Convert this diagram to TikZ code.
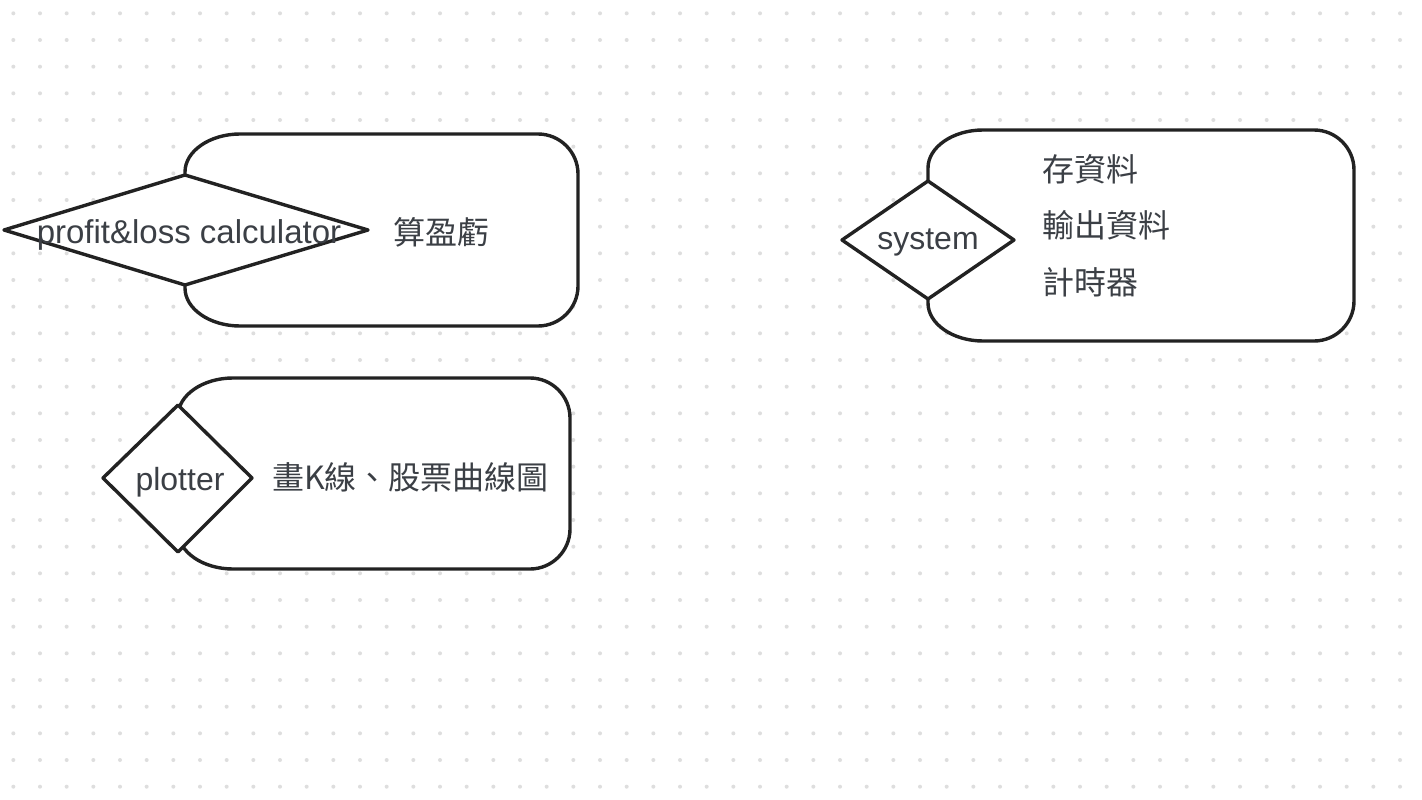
\documentclass[tikz,border=0pt]{standalone}
\usepackage{fontspec}
\setmainfont{Liberation Sans}
\newfontfamily\cjk{Noto Sans CJK TC}
\definecolor{dotc}{HTML}{DEDEDE}
\definecolor{linec}{HTML}{222222}
\definecolor{textc}{HTML}{3B3F45}
\newcommand{\drawpill}[4]{%
  \draw[shapeline] (#1,#2+38) .. controls (#1,#2+17) and (#1+25,#2) .. (#1+55,#2)
    -- (#3-40,#2) .. controls (#3-18,#2) and (#3,#2+18) .. (#3,#2+40)
    -- (#3,#4-40) .. controls (#3,#4-18) and (#3-18,#4) .. (#3-40,#4)
    -- (#1+55,#4) .. controls (#1+25,#4) and (#1,#4-17) .. (#1,#4-38) -- cycle;}
\begin{document}
\begin{tikzpicture}[x=1pt,y=-1pt,
  shapeline/.style={draw=linec,line width=3.4pt,fill=white,line join=round},
  lbl/.style={inner sep=0pt,text=textc,font=\fontsize{32}{38}\selectfont},
  cjklbl/.style={inner sep=0pt,text=textc,font=\cjk\fontsize{32}{38}\selectfont}]
\useasboundingbox[fill=white] (0,0) rectangle (1422,800);
\foreach \i in {0,...,52}{
  \foreach \j in {0,...,29}{
    \fill[dotc] ({13.333+26.667*\i},{13.333+26.667*\j}) circle (2);
  }
}
% profit & loss calculator
\drawpill{185}{134}{578}{326}
\draw[shapeline] (4,230) -- (185,175) -- (368,230) -- (185,285) -- cycle;
\node[lbl,anchor=base,font=\fontsize{33}{38}\selectfont] (pl) at (189,243) {profit\&loss calculator};
\node[cjklbl,anchor=base west] (pltxt) at (393,244) {算盈虧};
% system
\drawpill{928}{130}{1354}{341}
\draw[shapeline] (842,240) -- (928,181) -- (1014,240) -- (928,299) -- cycle;
\node[lbl,anchor=base] (sys) at (928,249) {system};
\node[cjklbl,anchor=base west] (sys1) at (1042,181) {存資料};
\node[cjklbl,anchor=base west] (sys2) at (1042,237) {輸出資料};
\node[cjklbl,anchor=base west] (sys3) at (1042,294) {計時器};
% plotter
\drawpill{178}{378}{570}{569}
\draw[shapeline] (103,478) -- (178,405) -- (252,478) -- (178,552) -- cycle;
\node[lbl,anchor=base] (plot) at (180,490) {plotter};
\node[cjklbl,anchor=base west] (plottxt) at (272,489) {畫K線、股票曲線圖};
\end{tikzpicture}
\end{document}
